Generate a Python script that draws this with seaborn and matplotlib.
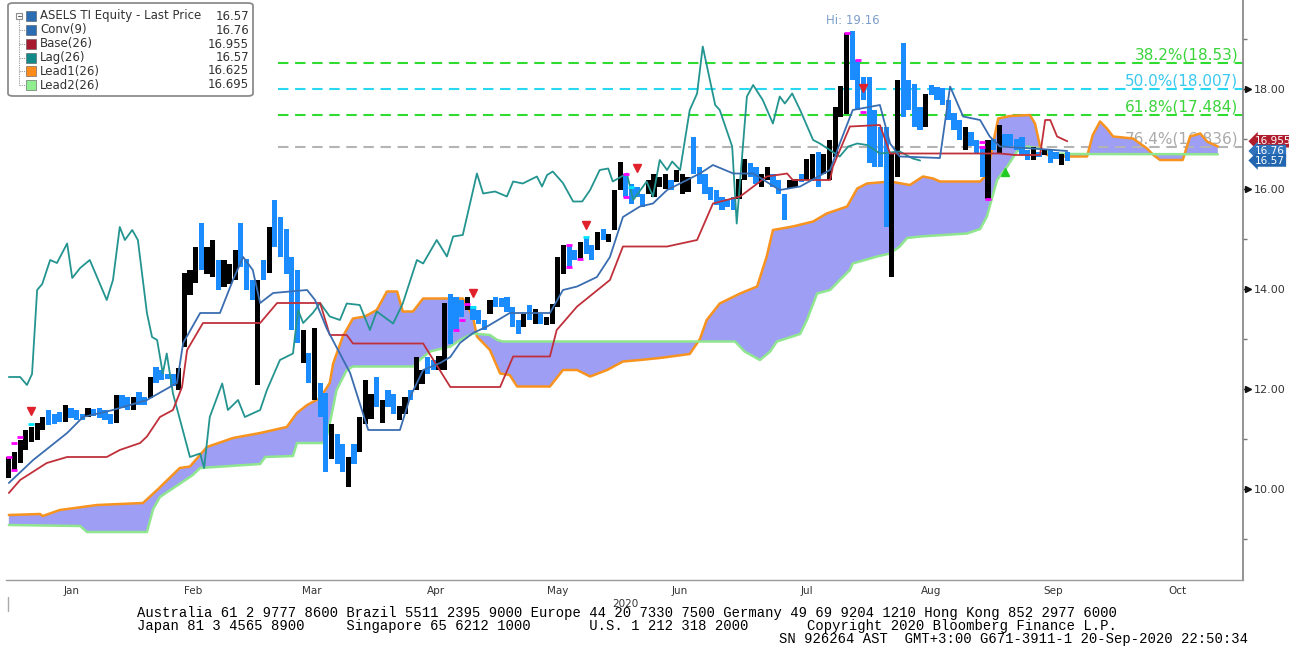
import numpy as np
import pandas as pd
import matplotlib
matplotlib.use("Agg")
import matplotlib.pyplot as plt
import matplotlib.transforms as mtransforms
from matplotlib.patches import FancyBboxPatch, Rectangle
from matplotlib.lines import Line2D
import seaborn as sns

# ---------------------------------------------------------------- data
start_date = "2020-01-01"          # bar 0 = first business day shown
end_date = "2020-11-02"

bar_low = [
    10.22, 10.38, 10.52, 10.78, 10.94, 10.98, 11.18, 11.28, 11.30, 11.34,
    11.34, 11.42, 11.38, 11.38, 11.44, 11.46, 11.42, 11.38, 11.30, 11.32,
    11.62, 11.58, 11.58, 11.68, 11.68, 11.82, 12.12, 12.18, 12.20, 12.05,
    11.98, 12.84, 13.88, 14.12, 14.38, 14.30, 14.24, 13.98, 14.04, 14.10,
    14.18, 14.44, 13.98, 13.78, 12.08, 14.18, 14.32, 14.84, 14.64, 14.30,
    13.18, 12.92, 12.52, 12.12, 11.78, 11.44, 10.35, 10.60, 10.50, 10.35,
    10.05, 10.50, 10.75, 11.30, 11.40, 11.65, 11.31, 11.65, 11.50, 11.38,
    11.50, 11.78, 11.98, 12.10, 12.31, 12.38, 12.38, 12.38, 12.91, 13.18,
    13.45, 13.58, 13.38, 13.31, 13.18, 13.51, 13.65, 13.65, 13.55, 13.25,
    13.11, 13.25, 13.38, 13.31, 13.31, 13.28, 13.31, 13.65, 14.31, 14.45,
    14.58, 14.61, 14.71, 14.58, 14.78, 14.98, 14.95, 15.18, 15.98, 15.85,
    15.71, 15.85, 15.65, 15.91, 15.85, 16.05, 16.00, 15.98, 16.15, 15.91,
    15.95, 16.31, 16.11, 15.91, 15.78, 15.68, 15.58, 15.65, 15.58, 15.80,
    16.18, 16.25, 16.11, 16.05, 16.18, 16.05, 15.91, 15.38, 16.01, 16.05,
    16.15, 16.18, 16.18, 16.05, 16.31, 16.18, 16.65, 17.45, 17.51, 18.18,
    17.58, 17.78, 16.51, 16.45, 16.45, 15.25, 14.25, 16.25, 17.45, 17.58,
    17.25, 17.18, 17.25, 17.88, 17.78, 17.68, 17.38, 17.18, 16.98, 16.78,
    16.85, 16.71, 16.25, 15.81, 16.78, 16.71, 16.85, 16.85, 16.78, 16.68,
    16.58, 16.58, 16.65, 16.68, 16.51, 16.61, 16.48, 16.57,
]
bar_high = [
    10.64, 10.74, 10.98, 11.18, 11.24, 11.32, 11.44, 11.58, 11.50, 11.54,
    11.68, 11.62, 11.58, 11.50, 11.62, 11.60, 11.62, 11.58, 11.50, 11.88,
    11.88, 11.84, 11.84, 11.94, 11.84, 12.24, 12.44, 12.38, 12.30, 12.30,
    12.42, 14.32, 14.38, 14.84, 15.32, 14.84, 14.98, 14.58, 14.58, 14.50,
    14.78, 15.32, 14.60, 14.18, 14.18, 14.58, 15.24, 15.78, 15.44, 15.20,
    14.64, 14.38, 13.18, 12.72, 13.22, 12.12, 11.92, 11.30, 11.10, 10.90,
    10.65, 10.90, 11.45, 12.18, 11.90, 12.25, 11.78, 11.98, 11.90, 11.65,
    11.85, 11.98, 12.65, 12.38, 12.65, 12.58, 12.65, 13.71, 13.91, 13.85,
    13.78, 13.85, 13.65, 13.58, 13.38, 13.78, 13.85, 13.82, 13.85, 13.65,
    13.38, 13.51, 13.68, 13.61, 13.51, 13.45, 13.71, 14.65, 14.88, 14.88,
    14.78, 14.95, 15.05, 14.88, 15.15, 15.21, 15.11, 15.98, 16.55, 16.31,
    16.11, 16.05, 15.91, 16.18, 16.31, 16.25, 16.31, 16.18, 16.38, 16.31,
    16.25, 17.05, 16.45, 16.31, 16.05, 15.98, 15.85, 15.81, 15.85, 16.20,
    16.61, 16.51, 16.45, 16.31, 16.45, 16.31, 16.18, 15.91, 16.18, 16.21,
    16.31, 16.61, 16.71, 16.75, 16.71, 16.98, 17.65, 18.05, 19.12, 19.16,
    18.58, 18.25, 18.25, 17.58, 17.25, 17.25, 16.71, 18.18, 18.91, 18.18,
    18.11, 17.65, 17.91, 18.08, 18.05, 18.01, 17.78, 17.51, 17.38, 17.25,
    17.15, 16.98, 16.85, 16.98, 17.00, 17.28, 17.11, 17.11, 17.00, 17.05,
    16.78, 16.85, 16.75, 16.81, 16.78, 16.75, 16.71, 16.75,
]
# 1 = down day (blue bar), 0 = up day (black bar)
bar_down = [
    0, 0, 0, 0, 0, 0, 0, 1, 1, 1,
    0, 1, 1, 1, 0, 1, 1, 1, 1, 0,
    1, 1, 0, 1, 1, 0, 1, 1, 1, 1,
    0, 0, 0, 0, 1, 0, 0, 1, 0, 0,
    0, 1, 1, 1, 0, 1, 0, 1, 1, 1,
    1, 1, 0, 1, 0, 1, 1, 0, 1, 1,
    0, 1, 0, 0, 0, 1, 0, 1, 1, 0,
    0, 1, 0, 0, 1, 1, 0, 0, 1, 1,
    1, 0, 1, 1, 1, 0, 1, 1, 1, 1,
    1, 0, 1, 0, 1, 0, 0, 0, 0, 1,
    1, 0, 1, 1, 0, 1, 0, 0, 0, 1,
    1, 1, 1, 0, 0, 0, 0, 1, 0, 0,
    0, 1, 1, 1, 1, 1, 1, 1, 1, 0,
    0, 1, 1, 0, 0, 1, 1, 1, 0, 0,
    1, 0, 0, 1, 0, 0, 0, 0, 0, 1,
    1, 1, 1, 1, 1, 1, 0, 0, 1, 1,
    1, 1, 0, 1, 1, 1, 1, 1, 1, 0,
    1, 1, 1, 0, 1, 0, 1, 1, 1, 1,
    1, 0, 1, 0, 1, 1, 0, 1,
]

conv_x = [0, 4.3, 10.3, 13.1, 18.4, 24.4, 29.7, 30.8, 33.8, 37.3, 39.6, 41.4, 43.1, 44.4, 46.7,
          52.7, 54.1, 56.2, 60.3, 63.5, 69.1, 70.9, 73.2, 76.2, 78.0, 79.7, 82.0, 84.5, 88.5,
          95.6, 97.9, 100.4, 103.9, 106.2, 108.5, 111.5, 113.8, 116.3, 122.1, 124.4, 128.0,
          131.5, 136.2, 139.8, 145.1, 146.8, 149.1, 153.9, 155.7, 157.4, 164.5, 166.3, 168.6,
          171.6, 173.3, 175.1, 182.2, 187.0]
conv_y = [10.12, 10.58, 11.12, 11.44, 11.58, 11.78, 12.12, 12.92, 13.52, 13.52, 14.18, 14.64, 14.38,
          13.72, 13.92, 13.98, 13.78, 13.20, 12.32, 11.18, 11.18, 11.84, 12.38, 12.52, 12.64, 12.92,
          13.12, 13.25, 13.52, 13.52, 13.98, 14.05, 14.24, 14.64, 15.44, 15.65, 15.71, 15.98, 16.31,
          16.48, 16.31, 16.31, 15.98, 16.05, 16.38, 16.91, 17.58, 17.68, 16.91, 16.65, 16.62, 18.05,
          17.45, 17.38, 17.05, 16.85, 16.80, 16.76]

base_x = [0, 2.0, 6.7, 10.3, 17.3, 19.6, 23.2, 24.4, 26.7, 29.0, 30.6, 31.5, 34.3, 44.4, 47.4,
          55.0, 56.7, 59.7, 60.8, 73.2, 78.0, 86.8, 89.1, 95.6, 96.8, 100.4, 106.2, 108.5, 116.3,
          121.6, 124.4, 129.2, 133.9, 137.5, 138.5, 145.1, 145.6, 148.6, 153.9, 155.7, 175.1,
          177.8, 182.2, 183.1, 184.0, 185.2, 187.0]
base_y = [9.92, 10.18, 10.52, 10.64, 10.64, 10.78, 10.92, 11.05, 11.44, 11.58, 12.04, 12.78, 13.32,
          13.32, 13.72, 13.72, 13.08, 13.08, 12.91, 12.91, 12.04, 12.04, 12.65, 12.65, 13.18, 13.65,
          14.18, 14.85, 14.85, 14.98, 15.71, 15.85, 16.25, 16.31, 16.18, 16.18, 16.45, 17.25, 17.28,
          16.71, 16.71, 16.68, 16.68, 17.38, 17.38, 17.05, 16.955]

lag_x = [0, 2.0, 3.2, 4.1, 5.0, 5.9, 7.3, 8.5, 10.3, 11.2, 12.6, 14.3, 16.1, 17.3, 18.4, 19.6,
         20.5, 21.8, 22.8, 24.4, 25.3, 26.2, 27.2, 27.9, 29.0, 32.0, 33.8, 34.5, 35.5, 37.7, 38.7,
         40.5, 41.7, 44.4, 45.6, 47.9, 50.2, 51.1, 52.0, 53.7, 55.0, 56.7, 58.5, 59.7, 62.0, 63.8,
         65.0, 67.9, 69.6, 72.1, 73.2, 75.6, 77.4, 78.5, 80.2, 82.7, 83.8, 85.9, 88.0, 89.1, 90.8,
         93.3, 94.2, 95.1, 96.1, 97.9, 99.7, 101.3, 102.7, 104.4, 105.9, 106.7, 109.2, 110.3,
         112.7, 113.8, 115.0, 116.3, 117.2, 118.6, 120.3, 121.6, 122.6, 124.8, 125.6, 127.8,
         128.6, 130.4, 131.5, 133.2, 135.0, 136.2, 137.1, 138.4, 139.8, 142.1, 143.3, 146.8,
         148.3, 149.9, 151.6, 153.9, 157.4, 159.7, 161.0]
lag_y = [12.24, 12.24, 12.08, 12.30, 13.98, 14.10, 14.58, 14.52, 14.91, 14.22, 14.42, 14.58, 14.10,
         13.78, 14.18, 15.24, 14.98, 15.18, 14.98, 13.52, 13.04, 12.98, 12.31, 12.71, 11.91, 10.64,
         10.71, 10.42, 11.44, 12.11, 11.58, 11.78, 11.44, 11.58, 11.98, 12.58, 12.71, 13.58, 13.32,
         13.52, 13.72, 13.45, 13.38, 13.71, 13.68, 13.18, 13.55, 13.31, 13.71, 14.58, 14.51, 14.98,
         14.65, 15.05, 15.08, 16.31, 15.91, 15.95, 15.85, 16.15, 16.11, 16.25, 16.05, 16.28, 16.35,
         16.12, 15.75, 15.75, 15.98, 16.38, 16.41, 16.15, 16.31, 15.78, 16.15, 15.85, 16.58, 16.38,
         16.55, 16.38, 17.58, 17.91, 18.85, 17.68, 17.58, 16.85, 15.31, 17.85, 18.08, 17.78, 17.31,
         17.85, 17.71, 17.91, 17.58, 16.98, 16.91, 16.65, 16.85, 16.91, 16.88, 16.71, 16.75, 16.61,
         16.57]

lead1_x = [0, 5.5, 6.0, 9.0, 15.6, 23.7, 26.2, 30.2, 32.0, 35.0, 39.6, 44.4, 49.1, 50.9, 52.7,
           55.0, 56.7, 57.3, 59.0, 60.8, 62.9, 65.0, 66.8, 68.6, 69.6, 71.4, 73.2, 80.2, 82.0,
           82.7, 85.0, 86.8, 88.5, 89.8, 95.6, 97.9, 100.4, 102.7, 105.7, 108.5, 111.5, 115.0,
           120.3, 122.1, 123.3, 125.6, 129.2, 132.2, 133.9, 135.0, 138.5, 142.1, 144.5, 148.1,
           149.9, 151.6, 155.7, 159.2, 161.5, 163.3, 164.5, 171.6, 172.8, 173.9, 174.8, 176.9,
           180.4, 181.3, 182.2, 183.4, 185.7, 190.5, 191.5, 192.8, 194.0, 195.1, 198.6, 201.1,
           202.2, 203.4, 207.4, 208.7, 210.5, 211.7, 213.6]
lead1_y = [9.48, 9.50, 9.46, 9.58, 9.68, 9.72, 9.98, 10.42, 10.45, 10.84, 11.02, 11.12, 11.24,
           11.52, 11.68, 11.82, 12.12, 12.51, 13.05, 13.41, 13.45, 13.58, 13.95, 13.95, 13.55,
           13.55, 13.81, 13.81, 13.45, 13.05, 12.78, 12.31, 12.28, 12.05, 12.05, 12.38, 12.38,
           12.25, 12.38, 12.55, 12.58, 12.62, 12.70, 13.00, 13.38, 13.71, 13.91, 14.05, 14.65,
           15.18, 15.25, 15.35, 15.51, 15.65, 16.01, 16.11, 16.15, 16.08, 16.25, 16.21, 16.15,
           16.15, 16.28, 16.91, 17.41, 17.46, 17.48, 17.31, 16.85, 16.68, 16.65, 16.65, 17.08,
           17.35, 17.21, 17.05, 17.01, 16.81, 16.68, 16.58, 16.58, 17.05, 17.11, 16.95, 16.85]

lead2_x = [0, 12.6, 13.8, 24.4, 25.5, 26.7, 32.5, 33.8, 44.4, 45.3, 50.2, 50.9, 55.9, 56.7,
           57.9, 59.7, 60.8, 71.4, 72.6, 74.4, 78.0, 79.7, 82.0, 85.0, 86.3, 87.3, 128.3, 130.0,
           132.7, 134.5, 135.7, 139.8, 141.0, 142.8, 145.1, 146.8, 148.6, 149.1, 153.4, 155.7,
           157.4, 158.7, 161.0, 169.3, 171.6, 172.8, 174.6, 176.4, 178.1, 179.9, 182.2, 184.5,
           187.0, 213.6]
lead2_y = [9.28, 9.26, 9.14, 9.14, 9.60, 9.84, 10.28, 10.42, 10.50, 10.64, 10.66, 10.92, 10.92,
           11.31, 11.98, 12.38, 12.45, 12.45, 12.58, 12.75, 12.85, 12.98, 13.11, 13.08, 12.98,
           12.95, 12.95, 12.75, 12.58, 12.75, 12.95, 13.10, 13.38, 13.91, 13.98, 14.18, 14.38,
           14.51, 14.65, 14.71, 14.85, 15.02, 15.05, 15.11, 15.20, 15.45, 16.18, 16.45, 16.75,
           16.85, 16.80, 16.71, 16.70, 16.695]

fib_levels = [18.53, 18.007, 17.484, 16.836]
fib_labels = ["38.2%(18.53)", "50.0%(18.007)", "61.8%(17.484)", "76.4%(16.836)"]
fib_start = 47.5

sell_sig_x = [4, 82, 102, 111, 151]
sell_sig_y = [11.56, 13.92, 15.28, 16.42, 18.03]
buy_sig_x = [176]
buy_sig_y = [16.35]
mag_x = [0, 1, 2, 1, 79, 80, 81, 99, 99, 101, 109, 109, 148, 150, 151, 172, 173, 172]
mag_y = [10.64, 10.92, 11.04, 10.38, 13.18, 13.38, 13.71, 14.88, 14.45, 14.61, 16.31, 15.85,
         19.12, 18.58, 17.55, 16.85, 15.81, 16.95]
cyan_x = [4, 82, 102, 110]
cyan_y = [11.30, 13.65, 15.05, 16.05]

hi_value = 19.16
legend_names = ["ASELS TI Equity - Last Price", "Conv(9)", "Base(26)", "Lag(26)", "Lead1(26)", "Lead2(26)"]
legend_values = ["16.57", "16.76", "16.955", "16.57", "16.625", "16.695"]
tag_values = [16.955, 16.76, 16.57]
tag_texts = ["16.955", "16.76", "16.57"]
y_major = [10, 12, 14, 16, 18]
y_minor = [9, 11, 13, 15, 17, 19]
year_label = "2020"
footer_lines = [
    "Australia 61 2 9777 8600 Brazil 5511 2395 9000 Europe 44 20 7330 7500 Germany 49 69 9204 1210 Hong Kong 852 2977 6000",
    "Japan 81 3 4565 8900     Singapore 65 6212 1000       U.S. 1 212 318 2000       Copyright 2020 Bloomberg Finance L.P.",
    "SN 926264 AST  GMT+3:00 G671-3911-1 20-Sep-2020 22:50:34",
]

# ---------------------------------------------------------------- style
sns.set_theme(style="white")
plt.rcParams["font.family"] = ["DejaVu Sans"]

C_BLUE_BAR = "#1a8cff"
C_CONV = "#3a6db0"
C_BASE = "#c0303a"
C_LAG = "#23948f"
C_LEAD1 = "#f7931e"
C_LEAD2 = "#8fe68f"
C_CLOUD = "#9d9ef4"
FIB_COLORS = ["#2fdc2f", "#27d8f0", "#2fdc2f", "#b4b4b4"]
FIB_TEXT = ["#3ad43a", "#3cc8ee", "#3ad43a", "#aaaaaa"]

W, H = 1289, 647
fig = plt.figure(figsize=(W / 100, H / 100), dpi=100)
fig.patch.set_facecolor("white")
ax = fig.add_axes([6 / W, 1 - 580 / H, (1243 - 6) / W, 580 / H])
ax.set_facecolor("white")

n = len(bar_low)
idx = np.arange(n)
lo = np.array(bar_low)
hi = np.array(bar_high)
dn = np.array(bar_down).astype(bool)

# cloud
ax.fill(np.r_[lead1_x, lead2_x[::-1]], np.r_[lead1_y, lead2_y[::-1]],
        color=C_CLOUD, lw=0, zorder=1)

# fib lines & labels
for lev, lab, lc, tc in zip(fib_levels, fib_labels, FIB_COLORS, FIB_TEXT):
    ax.hlines(lev, fib_start, 230, colors=lc, linestyles=(0, (5, 3.2)), lw=1.5, zorder=1.5)
    ax.text(217.2, lev + 0.07, lab, ha="right", va="baseline", fontsize=11, color=tc, zorder=0.8)

# bars
ax.bar(idx[~dn], (hi - lo)[~dn], bottom=lo[~dn], width=0.92, color="black", lw=0, zorder=3)
ax.bar(idx[dn], (hi - lo)[dn], bottom=lo[dn], width=0.92, color=C_BLUE_BAR, lw=0, zorder=3)

# ichimoku lines
sns.lineplot(x=lead1_x, y=lead1_y, ax=ax, color=C_LEAD1, lw=1.8, estimator=None, sort=False, zorder=2)
sns.lineplot(x=lead2_x, y=lead2_y, ax=ax, color=C_LEAD2, lw=1.8, estimator=None, sort=False, zorder=2)
sns.lineplot(x=lag_x, y=lag_y, ax=ax, color=C_LAG, lw=1.3, estimator=None, sort=False, zorder=4)
sns.lineplot(x=base_x, y=base_y, ax=ax, color=C_BASE, lw=1.3, estimator=None, sort=False, zorder=4)
sns.lineplot(x=conv_x, y=conv_y, ax=ax, color=C_CONV, lw=1.3, estimator=None, sort=False, zorder=4)

# signals
ax.plot(mag_x, mag_y, ls="none", marker="_", ms=5, mew=2, color="#ff00ff", zorder=5)
ax.plot(cyan_x, cyan_y, ls="none", marker="_", ms=5, mew=2, color="#00e5ff", zorder=5)
ax.plot(sell_sig_x, sell_sig_y, ls="none", marker="v", ms=6, color="#e0202a", zorder=5)
ax.plot(buy_sig_x, buy_sig_y, ls="none", marker="^", ms=6, color="#22cc22", zorder=5)

ax.text(int(np.argmax(hi)) + 0.2, hi_value + 0.2, f"Hi: {hi_value:.2f}", ha="center", va="center",
        fontsize=8.5, color="#7d9ec8", zorder=6)

# axes limits
ax.set_xlim(-0.5, 218.05)
ax.set_ylim(8.18, 19.78)

# x axis: month boundaries on business-day index
bdays = pd.bdate_range(start_date, end_date)
month_start_idx = [i for i, d in enumerate(bdays) if i == 0 or d.month != bdays[i - 1].month]
edges = [m - 0.5 for m in month_start_idx]
mids = [(a + b) / 2 for a, b in zip(edges[:-1], edges[1:])]
names = [bdays[m].strftime("%b") for m in month_start_idx[:-1]]
ax.set_xticks(edges)
ax.set_xticklabels([])
ax.set_xticks(mids, minor=True)
ax.set_xticklabels(names, minor=True)
ax.tick_params(axis="x", which="major", length=3, color="#888888", width=1, direction="out")
ax.tick_params(axis="x", which="minor", length=0, pad=4, labelsize=7.5, labelcolor="#333333")

# y axis on the right
ax.yaxis.tick_right()
ax.set_yticks(y_major)
ax.set_yticklabels([f"{v:.2f}" for v in y_major])
ax.set_yticks(y_minor, minor=True)
ax.tick_params(axis="y", which="major", length=5, width=1, color="#222222", direction="out",
               pad=3, labelsize=8, labelcolor="#333333", right=True, left=False)
ax.tick_params(axis="y", which="minor", length=3, width=1, color="#777777", direction="out",
               right=True, left=False)
blend = mtransforms.blended_transform_factory(ax.transAxes, ax.transData)
ax.plot([1 + 5 / 1237] * len(y_major), y_major, ls="none", marker=">", ms=4, color="#111111",
        transform=blend, clip_on=False, zorder=6)

for s in ["left", "top"]:
    ax.spines[s].set_visible(False)
ax.spines["right"].set_color("#8a8a8a")
ax.spines["right"].set_linewidth(1.3)
ax.spines["bottom"].set_color("#9a9a9a")
ax.spines["bottom"].set_linewidth(1.0)
ax.grid(False)

# right price tags
tag_colors = ["#b01e2d", "#2f73bd", "#2266b0"]
for v, t, c in zip(tag_values, tag_texts, tag_colors):
    ax.text(1 + 12 / 1237, v, t, transform=blend, ha="left", va="center", fontsize=7.5, color="white",
            clip_on=False, zorder=7,
            bbox=dict(boxstyle="larrow,pad=0.12", fc=c, ec="none"))

# year label and small tick
fig.text(625 / W, 1 - 604 / H, year_label, ha="center", va="center", fontsize=7.5, color="#333333")
fig.add_artist(Line2D([8 / W, 8 / W], [1 - 597 / H, 1 - 611 / H], color="#aaaaaa", lw=1))

# legend box
def fx(px):
    return px / W

def fy(py):
    return 1 - py / H

fig.add_artist(FancyBboxPatch((fx(8), fy(96)), fx(253) - fx(8), fy(3) - fy(96),
                              boxstyle="round,pad=0,rounding_size=0.004", transform=fig.transFigure,
                              ec="#8c8c8c", fc="white", lw=1.3, zorder=10))
leg_colors = ["#2b6cb3", "#2b6cb3", "#a6192e", "#138a8a", "#ff8c1a", "#90ee90"]
rows = [16, 30, 44, 57.5, 71, 85]
fig.add_artist(Line2D([fx(19), fx(19)], [fy(20), fy(85)], color="#9a9a9a", lw=0.8, ls=(0, (1, 1)), zorder=11))
for r in rows[1:]:
    fig.add_artist(Line2D([fx(19), fx(25)], [fy(r), fy(r)], color="#9a9a9a", lw=0.8, ls=(0, (1, 1)), zorder=11))
fig.add_artist(Rectangle((fx(16), fy(19)), fx(6), fy(13) - fy(19), transform=fig.transFigure,
                         fc="white", ec="#8c8c8c", lw=0.8, zorder=11))
fig.add_artist(Line2D([fx(17.5), fx(20.5)], [fy(16), fy(16)], color="#666666", lw=0.8, zorder=12))
for r, name, val, c in zip(rows, legend_names, legend_values, leg_colors):
    fig.add_artist(Rectangle((fx(26), fy(r + 5)), fx(10), fy(r - 5) - fy(r + 5), transform=fig.transFigure,
                             fc=c, ec="#555555", lw=0.4, zorder=11))
    fig.text(fx(40), fy(r), name, ha="left", va="center", fontsize=8.5, color="#333333", zorder=12)
    fig.text(fx(249), fy(r), val, ha="right", va="center", fontsize=8.5, color="#333333", zorder=12)

# footer
fig.text(fx(137), fy(613.5), footer_lines[0], ha="left", va="center", fontsize=10,
         family="Liberation Mono", color="black")
fig.text(fx(137), fy(626), footer_lines[1], ha="left", va="center", fontsize=10,
         family="Liberation Mono", color="black")
fig.text(fx(1248), fy(638.5), footer_lines[2], ha="right", va="center", fontsize=10,
         family="Liberation Mono", color="black")

fig.savefig("out.png", dpi=100, facecolor="white")
